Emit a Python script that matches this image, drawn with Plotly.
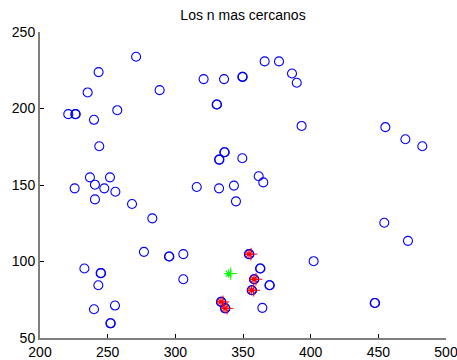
import plotly.graph_objects as go

# All data points (x, y); duplicates drawn as overlapping circles
pts_x = [271, 243.3, 235.2, 288.4, 220.9, 226.1, 226.4, 239.9, 257.1, 243.8,
         236.9, 240.6, 251.7, 225.6, 247.5, 255.7, 240.6, 268, 283, 276.8,
         295.3, 295.6, 305.9, 305.9, 232.8, 244.8, 245.1, 243.1, 239.9, 255.4,
         252, 252.3,
         320.9, 336, 349.5, 349.8, 330.5, 330.8, 336.2, 336.5, 332.3, 332.6,
         349.5, 315.8, 332.3, 343.3, 344.8, 361.6, 365, 366, 376.6, 386.2,
         389.7, 393.3, 455.2, 470, 482.5, 454.4, 471.9, 402.2, 447.3, 447.6,
         362.6, 362.9, 369.5, 369.8, 364.3,
         354.4, 354.7, 358.1, 358.4, 356.4, 356.7, 333.7, 334.0, 336.7, 337.0]
pts_y = [233.8, 223.8, 210.5, 212, 196.3, 196.3, 196.3, 192.6, 198.9, 175.3,
         155, 150.2, 155, 147.8, 147.8, 145.6, 140.6, 137.6, 128.2, 106.3,
         103.3, 103.3, 104.8, 88.4, 95.4, 92.4, 92.4, 84.5, 68.8, 71.2,
         59.6, 59.6,
         219.2, 219.2, 220.7, 220.7, 202.6, 202.6, 171.4, 171.4, 166.6, 166.6,
         167.5, 148.7, 147.8, 149.6, 139.3, 155.7, 151.7, 230.8, 230.8, 222.9,
         216.8, 188.6, 187.8, 179.9, 175.3, 125.3, 113.5, 100.2, 72.9, 72.9,
         95.4, 95.4, 84.5, 84.5, 69.7,
         104.8, 104.8, 88.4, 88.4, 81.2, 81.2, 73.6, 73.6, 69.4, 69.4]

# n nearest neighbours (red)
near_x = [354.4, 358.1, 356.4, 333.7, 336.7]
near_y = [104.8, 88.4, 81.2, 73.6, 69.4]

# query point (green)
query_x = [339.4]
query_y = [92.1]

x_ticks = [200, 250, 300, 350, 400, 450, 500]
y_ticks = [50, 100, 150, 200, 250]

fig = go.Figure()
fig.add_trace(go.Scatter(
    x=pts_x, y=pts_y, mode="markers",
    marker=dict(symbol="circle-open", size=9, color="#0000ff",
                line=dict(width=1.1, color="#0000ff")),
    hoverinfo="skip", showlegend=False))
fig.add_trace(go.Scatter(
    x=near_x, y=near_y, mode="markers",
    marker=dict(symbol="asterisk-open", size=7, color="#ff0000",
                line=dict(width=1.2, color="#ff0000")),
    hoverinfo="skip", showlegend=False))
fig.add_trace(go.Scatter(
    x=[v + 1.5 for v in near_x], y=near_y, mode="markers",
    marker=dict(symbol="cross-thin-open", size=9, color="#ff0000",
                line=dict(width=1, color="#ff0000")),
    hoverinfo="skip", showlegend=False))
fig.add_trace(go.Scatter(
    x=query_x, y=query_y, mode="markers",
    marker=dict(symbol="asterisk-open", size=7, color="#00ff00",
                line=dict(width=1.2, color="#00ff00")),
    hoverinfo="skip", showlegend=False))
fig.add_trace(go.Scatter(
    x=[v + 1.5 for v in query_x], y=query_y, mode="markers",
    marker=dict(symbol="cross-thin-open", size=9, color="#00ff00",
                line=dict(width=1, color="#00ff00")),
    hoverinfo="skip", showlegend=False))

axis_common = dict(showgrid=False, zeroline=False, showline=True,
                   linecolor="#7f7f7f", linewidth=2, ticks="inside",
                   ticklen=4, tickcolor="#000000", tickwidth=1,
                   ticklabeloverflow="allow", automargin=False,
                   tickfont=dict(family="Liberation Sans, Arial", size=14, color="#000000"),
                   mirror=False)

fig.update_layout(
    width=457, height=360,
    margin=dict(l=40, r=11, t=32, b=22),
    paper_bgcolor="white", plot_bgcolor="white",
    title=dict(text="Los n mas cercanos", x=(40 + 446) / 2 / 457, xanchor="center",
               y=1 - 15 / 360, yanchor="middle",
               font=dict(family="Liberation Sans, Arial", size=14, color="#000000")),
    xaxis=dict(range=[200, 500], tickvals=x_ticks, **axis_common),
    yaxis=dict(range=[50, 250], tickvals=y_ticks, **axis_common),
)
fig.write_html("out.html")
